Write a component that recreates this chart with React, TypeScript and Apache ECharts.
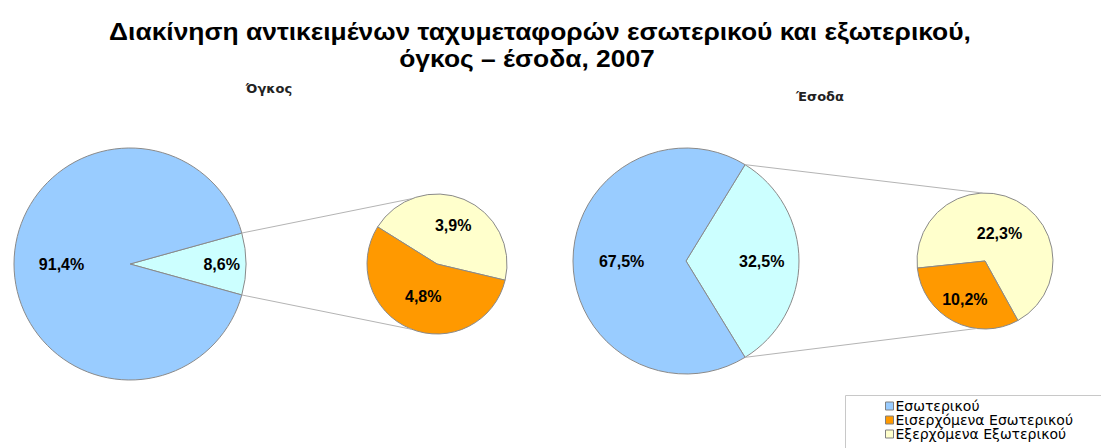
import React, { useEffect, useRef } from 'react';
import * as echarts from 'echarts';

const TITLE_LINES = [
  'Διακίνηση αντικειμένων ταχυμεταφορών εσωτερικού και εξωτερικού,',
  'όγκος – έσοδα, 2007',
];
const PANEL_TITLES = ['Όγκος', 'Έσοδα'];
const MAIN_NAMES = ['Εξωτερικού', 'Εσωτερικού'];
const SPLIT_NAMES = ['Εξερχόμενα Εξωτερικού', 'Εισερχόμενα Εσωτερικού'];
const LEGEND_NAMES = ['Εσωτερικού', 'Εισερχόμενα Εσωτερικού', 'Εξερχόμενα Εξωτερικού'];
const volumeMain = [8.6, 91.4];
const volumeSplit = [3.9, 4.8];
const revenueMain = [32.5, 67.5];
const revenueSplit = [22.3, 10.2];

const MAIN_COLORS = ['#CCFFFF', '#99CCFF'];
const SPLIT_COLORS = ['#FFFFCC', '#FF9900'];
const FONT = 'Liberation Sans, Arial, sans-serif';
const WIDE_FONT = 'DejaVu Sans, Verdana, sans-serif';

type PieLayout = { center: [number, number]; r: number; start: number; labelFrac: number[] };

const sum = (a: number[]) => a.reduce((s, v) => s + v, 0);

const pt = (c: [number, number], r: number, deg: number): [number, number] => {
  const a = (deg * Math.PI) / 180;
  return [c[0] + r * Math.cos(a), c[1] - r * Math.sin(a)];
};

export default function App() {
  const ref = useRef<HTMLDivElement>(null);
  useEffect(() => {
    document.body.style.margin = '0';
    if (!ref.current) return;
    const chart = echarts.init(ref.current, undefined, { renderer: 'svg' });

    const volStart = (180 * volumeMain[0]) / sum(volumeMain);
    const revStart = (180 * revenueMain[0]) / sum(revenueMain);

    const layouts: PieLayout[] = [
      { center: [130, 264], r: 116, start: volStart, labelFrac: [0.79, 0.59] },
      { center: [437, 264], r: 70, start: 148, labelFrac: [0.6, 0.51] },
      { center: [686, 261], r: 113, start: revStart, labelFrac: [0.67, 0.57] },
      { center: [985, 261], r: 68, start: 186, labelFrac: [0.46, 0.64] },
    ];
    const datasets = [volumeMain, volumeSplit, revenueMain, revenueSplit];
    const names = [MAIN_NAMES, SPLIT_NAMES, MAIN_NAMES, SPLIT_NAMES];
    const colors = [MAIN_COLORS, SPLIT_COLORS, MAIN_COLORS, SPLIT_COLORS];

    const midAngles = datasets.map((vals, si) => {
      const total = sum(vals);
      let cur = layouts[si].start;
      return vals.map((v) => {
        const span = (360 * v) / total;
        const mid = cur - span / 2;
        cur -= span;
        return mid;
      });
    });

    const series = datasets.map((vals, si) => ({
      type: 'pie',
      center: layouts[si].center,
      radius: layouts[si].r,
      startAngle: layouts[si].start,
      clockwise: true,
      avoidLabelOverlap: false,
      silent: true,
      data: vals.map((v, i) => ({
        name: names[si][i],
        value: v,
        itemStyle: { color: colors[si][i] },
      })),
      itemStyle: { borderColor: '#8a8a8a', borderWidth: 1 },
      label: {
        show: true,
        position: 'inside',
        formatter: (p: any) => p.value.toFixed(1).replace('.', ',') + '%',
        fontFamily: FONT,
        fontSize: 16,
        fontWeight: 'bold',
        color: '#000',
      },
      labelLine: { show: false },
      labelLayout: (params: any) => {
        const L = layouts[si];
        const [x, y] = pt(L.center, L.r * L.labelFrac[params.dataIndex], midAngles[si][params.dataIndex]);
        return { x, y, align: 'center', verticalAlign: 'middle' };
      },
      emphasis: { disabled: true },
    }));

    const connectors = [
      { from: 0, to: 1, a1: volStart, b1: 111, a2: -volStart, b2: -111 },
      { from: 2, to: 3, a1: revStart, b1: 92, a2: -revStart, b2: -97 },
    ];
    const lines: any[] = [];
    connectors.forEach((c) => {
      const A = layouts[c.from];
      const B = layouts[c.to];
      [[c.a1, c.b1], [c.a2, c.b2]].forEach(([a, b]) => {
        const p1 = pt(A.center, A.r, a);
        const p2 = pt(B.center, B.r, b);
        lines.push({
          type: 'line',
          shape: { x1: p1[0], y1: p1[1], x2: p2[0], y2: p2[1] },
          style: { stroke: '#b4b4b4', lineWidth: 1 },
          z: 10,
          silent: true,
        });
      });
    });

    chart.setOption({
      animation: false,
      backgroundColor: '#ffffff',
      legend: {
        data: LEGEND_NAMES,
        orient: 'vertical',
        left: 885,
        top: 399,
        itemWidth: 8,
        itemHeight: 8,
        itemGap: 0,
        padding: 0,
        selectedMode: false,
        icon: 'rect',
        itemStyle: { borderColor: '#808080', borderWidth: 1 },
        textStyle: { fontFamily: WIDE_FONT, fontSize: 14, lineHeight: 12, color: '#000', padding: [0, 0, 0, -3] },
      },
      graphic: [
        {
          type: 'text',
          x: 540,
          y: 31,
          scaleX: 1.1,
          style: {
            text: TITLE_LINES[0],
            textAlign: 'center',
            textVerticalAlign: 'middle',
            font: `bold 24px ${FONT}`,
            fill: '#000',
          },
        },
        {
          type: 'text',
          x: 527,
          y: 58,
          scaleX: 1.1,
          style: {
            text: TITLE_LINES[1],
            textAlign: 'center',
            textVerticalAlign: 'middle',
            font: `bold 24px ${FONT}`,
            fill: '#000',
          },
        },
        {
          type: 'text',
          x: 269,
          y: 88,
          style: {
            text: PANEL_TITLES[0],
            textAlign: 'center',
            textVerticalAlign: 'middle',
            font: `bold 13px ${WIDE_FONT}`,
            fill: '#222',
          },
        },
        {
          type: 'text',
          x: 820,
          y: 96,
          style: {
            text: PANEL_TITLES[1],
            textAlign: 'center',
            textVerticalAlign: 'middle',
            font: `bold 13px ${WIDE_FONT}`,
            fill: '#222',
          },
        },
        {
          type: 'rect',
          shape: { x: 845.5, y: 395.5, width: 300, height: 100 },
          style: { fill: '#ffffff', stroke: '#c8c8c8', lineWidth: 1 },
          z: -1,
          silent: true,
        },
        ...lines,
      ],
      series,
    });

    return () => chart.dispose();
  }, []);
  return <div ref={ref} style={{ width: 1101, height: 448 }} />;
}
